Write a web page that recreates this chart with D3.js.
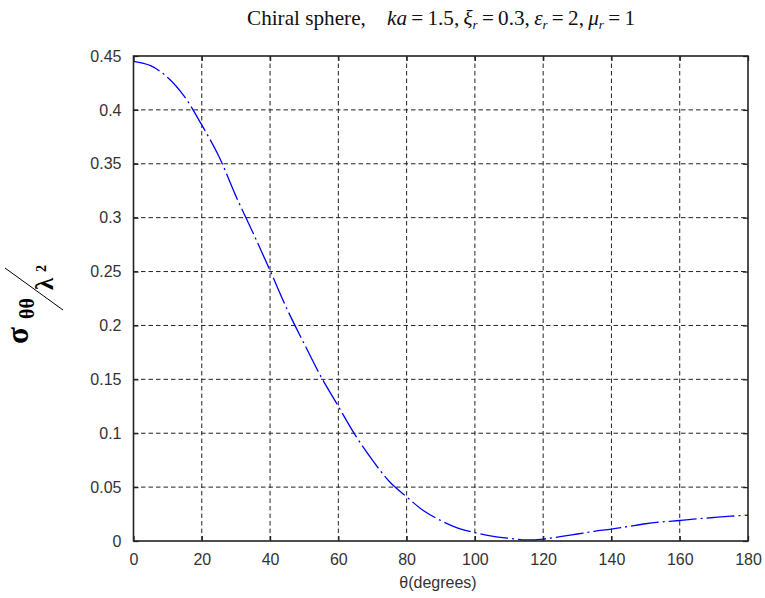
<!DOCTYPE html>
<html>
<head>
<meta charset="utf-8">
<script src="https://cdn.jsdelivr.net/npm/d3@7/dist/d3.min.js"></script>
<style>
  html, body { margin: 0; padding: 0; background: #fff; }
  svg { display: block; }
</style>
</head>
<body>
<svg id="chart" width="765" height="598"></svg>
<script>
// ---- data ----
const thetaDeg = [0, 5, 10, 15, 20, 25, 30, 35, 40, 45, 50, 55, 60, 65, 70, 75, 80, 85, 90, 95, 100, 105, 110, 115, 120, 125, 130, 135, 140, 145, 150, 155, 160, 165, 170, 175, 180];
const sigma = [0.445, 0.441, 0.430, 0.412, 0.386, 0.357, 0.320, 0.286, 0.251, 0.215, 0.183, 0.152, 0.125, 0.098, 0.075, 0.055, 0.041, 0.028, 0.019, 0.012, 0.0077, 0.0045, 0.0025, 0.001, 0.0018, 0.004, 0.0065, 0.009, 0.011, 0.0135, 0.016, 0.0178, 0.019, 0.0205, 0.0218, 0.023, 0.024];
const xTicks = [0, 20, 40, 60, 80, 100, 120, 140, 160, 180];
const yTicks = [0, 0.05, 0.1, 0.15, 0.2, 0.25, 0.3, 0.35, 0.4, 0.45];
const xLabel = "θ(degrees)";

const svg = d3.select("#chart");
const L = 133.5, R = 748, T = 56, B = 541;
const x = d3.scaleLinear().domain([0, 180]).range([L, R]);
const y = d3.scaleLinear().domain([0, 0.45]).range([B, T]);

// grid
const grid = svg.append("g").attr("stroke", "#222").attr("stroke-width", 1).attr("stroke-dasharray", "4.5,3");
grid.selectAll("line.gx").data(xTicks.slice(1, -1)).join("line")
  .attr("x1", d => x(d)).attr("x2", d => x(d)).attr("y1", T).attr("y2", B);
grid.selectAll("line.gy").data(yTicks.slice(1, -1)).join("line")
  .attr("y1", d => y(d)).attr("y2", d => y(d)).attr("x1", L).attr("x2", R);

// curve
const line = d3.line().x((d, i) => x(thetaDeg[i])).y(d => y(d)).curve(d3.curveCatmullRom);
svg.append("path").datum(sigma)
  .attr("d", line)
  .attr("fill", "none")
  .attr("stroke", "#0000ff")
  .attr("stroke-width", 1.3)
  .attr("stroke-dasharray", "28,4,2,4");

// axes (ticks inside, on all four sides)
const tickFont = g => g.selectAll("text").attr("font-family", "Liberation Sans, Arial, sans-serif").attr("font-size", 16).attr("fill", "#333");
const xAxisB = d3.axisBottom(x).tickValues(xTicks).tickSizeInner(-5).tickSizeOuter(0).tickPadding(13).tickFormat(d3.format("d"));
const xAxisT = d3.axisTop(x).tickValues(xTicks).tickSizeInner(-5).tickSizeOuter(0).tickFormat("");
const yAxisL = d3.axisLeft(y).tickValues(yTicks).tickSizeInner(-5).tickSizeOuter(0).tickPadding(12).tickFormat(d => d === 0 ? "0" : String(+d.toFixed(2)));
const yAxisR = d3.axisRight(y).tickValues(yTicks).tickSizeInner(-5).tickSizeOuter(0).tickFormat("");

function styleAxis(g) {
  g.select(".domain").remove();
  g.selectAll(".tick line").attr("stroke", "#222").attr("stroke-width", 1.3);
  tickFont(g);
}
svg.append("g").attr("transform", `translate(0,${B})`).call(xAxisB).call(styleAxis);
svg.append("g").attr("transform", `translate(0,${T})`).call(xAxisT).call(styleAxis);
svg.append("g").attr("transform", `translate(${L},0)`).call(yAxisL).call(styleAxis);
svg.append("g").attr("transform", `translate(${R},0)`).call(yAxisR).call(styleAxis);

// frame
svg.append("rect").attr("x", L).attr("y", T).attr("width", R - L).attr("height", B - T)
  .attr("fill", "none").attr("stroke", "#222").attr("stroke-width", 1.6);

// x label
svg.append("text").attr("x", 438).attr("y", 588).attr("text-anchor", "middle")
  .attr("font-family", "Liberation Sans, Arial, sans-serif").attr("font-size", 16).attr("fill", "#333")
  .text(xLabel);

// title
const title = svg.append("text").attr("x", 441).attr("y", 25).attr("text-anchor", "middle")
  .attr("font-family", "Liberation Serif, Times New Roman, serif").attr("font-size", 21).attr("fill", "#111")
  .attr("textLength", 388).attr("lengthAdjust", "spacingAndGlyphs");
const parts = [
  ["Chiral sphere,\u2003", null, false],
  ["ka", null, true],
  ["\u2009=\u20091.5,\u2009", null, false],
  ["ξ", null, true], ["r", "sub", true],
  ["\u2009=\u20090.3,\u2009", null, false],
  ["ε", null, true], ["r", "sub", true],
  ["\u2009=\u20092,\u2009", null, false],
  ["μ", null, true], ["r", "sub", true],
  ["\u2009=\u20091", null, false]
];
parts.forEach(([t, kind, it], i) => {
  const ts = title.append("tspan").text(t).attr("font-style", it ? "italic" : "normal");
  const prev = i > 0 ? parts[i - 1][1] : null;
  if (kind === "sub") ts.attr("font-size", 13).attr("dy", 4);
  else if (prev === "sub") ts.attr("dy", -4);
});

// y label: sigma_thetatheta / lambda^2 (rotated)
const serif = "Liberation Serif, Times New Roman, serif";
function rotText(px, py, txt, size) {
  return svg.append("text").attr("transform", `translate(${px},${py}) rotate(-90)`)
    .attr("font-family", serif).attr("font-weight", "bold").attr("font-size", size).attr("fill", "#000").text(txt);
}
rotText(28, 344, "σ", 31);
rotText(34, 319, "θθ", 20);
rotText(53, 290, "λ", 25);
rotText(46, 272, "2", 14);
svg.append("line").attr("x1", 5).attr("y1", 268).attr("x2", 63).attr("y2", 310)
  .attr("stroke", "#000").attr("stroke-width", 1);
</script>
</body>
</html>
